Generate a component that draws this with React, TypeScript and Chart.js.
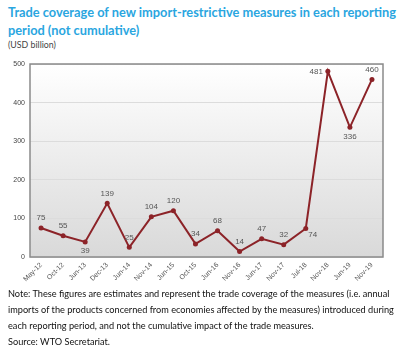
import React, { useEffect, useRef } from "react";
import { Chart, registerables } from "chart.js";

Chart.register(...registerables);

const categories = ["May-12", "Oct-12", "Jun-13", "Dec-13", "Jun-14", "Nov-14", "Jun-15", "Oct-15", "Jun-16", "Nov-16", "Jun-17", "Nov-17", "Jul-18", "Nov-18", "Jun-19", "Nov-19"];
const tradeCoverage = [75, 55, 39, 139, 25, 104, 120, 34, 68, 14, 47, 32, 74, 481, 336, 460];
const labelPlacement = ["above", "above", "below", "above", "above", "above", "above", "above", "above", "above", "above", "above", "belowRight", "left", "below", "above"];
const yTicks = [0, 100, 200, 300, 400, 500];

const LINE = "#8c2328";
const SMALL_FONT = "'Liberation Sans', Arial, sans-serif";

const plotDecor = {
  id: "plotDecor",
  beforeDraw(chart: any) {
    const { ctx, chartArea: a } = chart;
    const g = ctx.createLinearGradient(0, a.top, 0, a.bottom);
    g.addColorStop(0, "#ffffff");
    g.addColorStop(1, "#d9d9d9");
    ctx.save();
    ctx.fillStyle = g;
    ctx.fillRect(a.left, a.top, a.right - a.left, a.bottom - a.top);
    ctx.restore();
  },
  afterDraw(chart: any) {
    const { ctx, chartArea: a } = chart;
    ctx.save();
    ctx.strokeStyle = "#8a8a8a";
    ctx.lineWidth = 1.5;
    ctx.strokeRect(a.left, a.top, a.right - a.left, a.bottom - a.top);
    const meta = chart.getDatasetMeta(0);
    ctx.font = "8px " + SMALL_FONT;
    ctx.fillStyle = "#555";
    meta.data.forEach((pt: any, i: number) => {
      const v = tradeCoverage[i];
      const p = labelPlacement[i];
      let x = pt.x, y = pt.y;
      ctx.textAlign = "center";
      ctx.textBaseline = "middle";
      if (p === "above") y -= 10;
      else if (p === "below") y += 9;
      else if (p === "belowRight") { x += 7; y += 6; }
      else if (p === "left") { ctx.textAlign = "right"; x -= 5; }
      ctx.fillText(String(v), x, y);
    });
    ctx.restore();
  },
};

export default function App() {
  const ref = useRef<HTMLCanvasElement>(null);
  useEffect(() => {
    const chart = new Chart(ref.current!, {
      type: "line",
      data: {
        labels: categories,
        datasets: [
          {
            data: tradeCoverage,
            borderColor: LINE,
            backgroundColor: LINE,
            borderWidth: 2,
            pointRadius: 2.5,
            pointBackgroundColor: LINE,
            pointBorderWidth: 0,
            tension: 0,
          },
        ],
      },
      options: {
        responsive: false,
        animation: false,
        layout: { padding: { top: 12, right: 17, left: 0, bottom: 0 } },
        plugins: { legend: { display: false }, tooltip: { enabled: false } },
        scales: {
          x: {
            offset: true,
            grid: { display: false, drawTicks: false },
            border: { display: false },
            ticks: {
              minRotation: 45,
              maxRotation: 45,
              autoSkip: false,
              padding: 4,
              color: "#555",
              font: { size: 7, family: SMALL_FONT },
            },
            afterFit: (s: any) => { s.height = 31; },
          },
          y: {
            min: 0,
            max: 500,
            afterBuildTicks: (s: any) => { s.ticks = yTicks.map((v) => ({ value: v })); },
            grid: { color: "#dcdcdc", drawTicks: false, lineWidth: 1 },
            border: { display: false },
            ticks: {
              padding: 5,
              color: "#444",
              font: { size: 7, family: SMALL_FONT },
            },
            afterFit: (s: any) => { s.width = 30; },
          },
        },
      },
      plugins: [plotDecor],
    });
    return () => chart.destroy();
  }, []);

  return (
    <div style={{ position: "absolute", left: 0, top: 0, width: 400, height: 351, background: "#fff", overflow: "hidden" }}>
      <div style={{ position: "absolute", left: 8, top: 3, width: 392, fontFamily: "Lato, 'Open Sans', sans-serif", fontWeight: 700, fontSize: 12.8, lineHeight: "18px", color: "#2aa6df", whiteSpace: "nowrap" }}>
        Trade coverage of new import-restrictive measures in each reporting
        <br />
        period (not cumulative)
      </div>
      <div style={{ position: "absolute", left: 8, top: 39, fontFamily: "Lato, 'Open Sans', sans-serif", fontSize: 8.8, color: "#444" }}>
        (USD billion)
      </div>
      <canvas ref={ref} width={400} height={236} style={{ position: "absolute", left: 0, top: 52 }} />
      <div style={{ position: "absolute", left: 8, top: 286, width: 392, fontFamily: "Lato, 'Open Sans', sans-serif", fontSize: 9.2, lineHeight: "16px", color: "#111", whiteSpace: "nowrap" }}>
        Note: These figures are estimates and represent the trade coverage of the measures (i.e. annual
        <br />
        imports of the products concerned from economies affected by the measures) introduced during
        <br />
        each reporting period, and not the cumulative impact of the trade measures.
        <br />
        Source: WTO Secretariat.
      </div>
    </div>
  );
}
